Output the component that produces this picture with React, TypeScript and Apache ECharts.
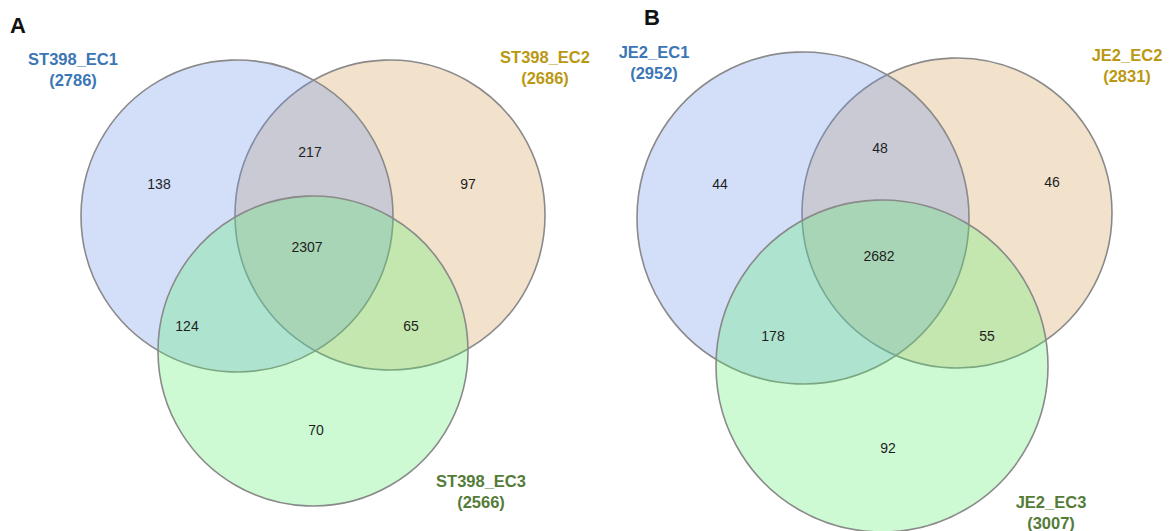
import { useEffect, useRef } from 'react';
import * as echarts from 'echarts';

// Region counts, in the order: only 1, 1∩2, only 2, 1∩2∩3, 1∩3, 2∩3, only 3
const setNamesA = ['ST398_EC1', 'ST398_EC2', 'ST398_EC3'];
const setTotalsA = [2786, 2686, 2566];
const regionCountsA = [138, 217, 97, 2307, 124, 65, 70];

const setNamesB = ['JE2_EC1', 'JE2_EC2', 'JE2_EC3'];
const setTotalsB = [2952, 2831, 3007];
const regionCountsB = [44, 48, 46, 2682, 178, 55, 92];

const panelLetters = ['A', 'B'];

// Layout (canvas units): circle centre / radius, label anchors
const circlesA = [[237, 216, 156], [390, 215, 155], [313, 351, 155]];
const circlesB = [[803, 218, 166], [957, 213, 155], [882, 366, 166]];
const regionPosA = [[159, 184], [310, 152], [468, 184], [307, 247], [187, 326], [411, 326], [316, 430]];
const regionPosB = [[720, 184], [880, 148], [1052, 182], [879, 256], [773, 336], [987, 336], [888, 448]];
const setLabelPosA = [[73, 69], [545, 67], [481, 491]];
const setLabelPosB = [[654, 62], [1127, 65], [1051, 512]];
const letterPos = [[18, 25], [652, 17]];

const W = 1169;
const H = 531;
const FONT = '"Liberation Sans", Arial, Helvetica, sans-serif';
const labelColors = ['#3b76b5', '#bb9812', '#547c38'];
const fillColors = ['rgba(108,145,235,0.3)', 'rgba(212,158,85,0.3)', 'rgba(88,238,108,0.3)'];
const drawOrder = [1, 0, 2];

export default function App() {
  const ref = useRef<HTMLDivElement>(null);

  useEffect(() => {
    document.body.style.margin = '0';
    const chart = echarts.init(ref.current!, null, { renderer: 'svg' });

    const circleData: number[][] = [];
    [circlesA, circlesB].forEach((circles) => {
      drawOrder.forEach((i) => {
        const [cx, cy, r] = circles[i];
        circleData.push([cx, cy, r, i]);
      });
    });

    const countData: number[][] = [];
    [[regionCountsA, regionPosA], [regionCountsB, regionPosB]].forEach(([counts, pos]) => {
      (counts as number[]).forEach((c, k) => {
        const p = (pos as number[][])[k];
        countData.push([p[0], p[1], c]);
      });
    });

    const setLabelData: any[] = [];
    [
      [setNamesA, setTotalsA, setLabelPosA],
      [setNamesB, setTotalsB, setLabelPosB],
    ].forEach(([names, totals, pos]) => {
      (names as string[]).forEach((n, k) => {
        const p = (pos as number[][])[k];
        setLabelData.push({ value: [p[0], p[1], k], name: `${n}\n(${(totals as number[])[k]})` });
      });
    });

    const letterData = panelLetters.map((l, k) => ({ value: letterPos[k], name: l }));

    chart.setOption({
      animation: false,
      backgroundColor: '#ffffff',
      grid: { left: 0, right: 0, top: 0, bottom: 0 },
      xAxis: { type: 'value', min: 0, max: W, show: false },
      yAxis: { type: 'value', min: 0, max: H, inverse: true, show: false },
      series: [
        {
          type: 'custom',
          coordinateSystem: 'cartesian2d',
          data: circleData,
          renderItem: (params: any, api: any) => {
            const c = api.coord([api.value(0), api.value(1)]);
            const r = api.size([api.value(2), 0])[0];
            const idx = api.value(3);
            return {
              type: 'circle',
              shape: { cx: c[0], cy: c[1], r },
              style: { fill: fillColors[idx], stroke: '#8a8a8a', lineWidth: 1.6 },
            };
          },
        },
        {
          type: 'custom',
          coordinateSystem: 'cartesian2d',
          data: countData,
          renderItem: (params: any, api: any) => {
            const c = api.coord([api.value(0), api.value(1)]);
            return {
              type: 'text',
              x: c[0],
              y: c[1],
              style: {
                text: String(api.value(2)),
                fill: '#1e1e1e',
                fontSize: 14,
                fontFamily: FONT,
                align: 'center',
                verticalAlign: 'middle',
              },
            };
          },
        },
        {
          type: 'custom',
          coordinateSystem: 'cartesian2d',
          data: setLabelData,
          renderItem: (params: any, api: any) => {
            const c = api.coord([api.value(0), api.value(1)]);
            const item = setLabelData[params.dataIndex];
            return {
              type: 'text',
              x: c[0],
              y: c[1],
              style: {
                text: item.name,
                fill: labelColors[api.value(2)],
                fontSize: 16.5,
                fontWeight: 'bold',
                fontFamily: FONT,
                lineHeight: 21,
                align: 'center',
                verticalAlign: 'middle',
              },
            };
          },
        },
        {
          type: 'custom',
          coordinateSystem: 'cartesian2d',
          data: letterData,
          renderItem: (params: any, api: any) => {
            const c = api.coord([api.value(0), api.value(1)]);
            return {
              type: 'text',
              x: c[0],
              y: c[1],
              style: {
                text: letterData[params.dataIndex].name,
                fill: '#111111',
                fontSize: 22,
                fontWeight: 'bold',
                fontFamily: FONT,
                align: 'center',
                verticalAlign: 'middle',
              },
            };
          },
        },
      ],
    });

    return () => chart.dispose();
  }, []);

  return <div ref={ref} style={{ width: W, height: H }} />;
}
